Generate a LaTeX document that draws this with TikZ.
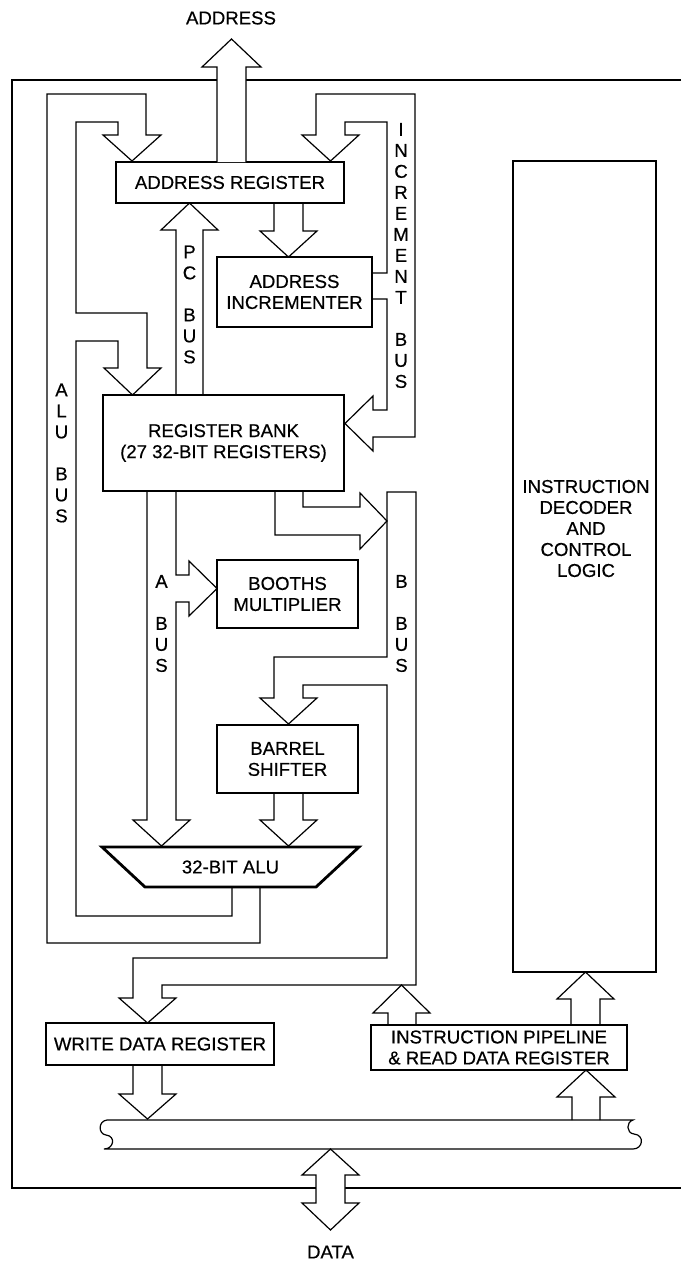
\documentclass[tikz,border=0pt]{standalone}
\usepackage{fontspec}
\setmainfont{Liberation Sans}[FakeBold=0.5]
\newcommand{\lbl}{\fontsize{18.6}{21}\selectfont}
\begin{document}
\begin{tikzpicture}[x=1pt,y=-1pt,
  bus/.style={line width=1.2pt, line join=miter},
  box/.style={draw, line width=2.8pt, inner sep=0pt, align=center, font=\lbl},
  txt/.style={inner sep=0pt, align=center, font=\lbl},
  vlab/.style={inner sep=0pt, align=center, font=\lbl}]
\useasboundingbox (0,0) rectangle (681,1261);
% outer frame
\draw[bus] (681,80) -- (12,80) -- (12,1188) -- (681,1188);
% boxes
\node[box, minimum width=228pt, minimum height=41pt] (areg) at (230,182.5) {ADDRESS REGISTER};
\node[box, minimum width=155pt, minimum height=70pt] (ainc) at (294.5,292) {ADDRESS\\INCREMENTER};
\node[box, minimum width=241pt, minimum height=96pt] (rbank) at (223.5,443) {REGISTER BANK\\(27 32-BIT REGISTERS)};
\node[box, minimum width=141pt, minimum height=68pt] (booth) at (287.5,594) {BOOTHS\\MULTIPLIER};
\node[box, minimum width=141pt, minimum height=68pt] (barrel) at (287.5,759) {BARREL\\SHIFTER};
\node[box, minimum width=228pt, minimum height=42pt] (wdr) at (160,1044) {WRITE DATA REGISTER};
\node[box, minimum width=256pt, minimum height=45pt] (pipe) at (499,1047.5) {INSTRUCTION PIPELINE\\\& READ DATA REGISTER};
\node[box, minimum width=143pt, minimum height=811pt] (dec) at (584.5,566.5) {};
\node[txt] (dectext) at (586,528.5) {INSTRUCTION\\DECODER\\AND\\CONTROL\\LOGIC};
% ALU
\draw[line width=2.8pt, line join=miter] (102,847) -- (359,847) -- (316,887) -- (145,887) -- cycle;
\node[txt] (alu) at (230.5,867) {32-BIT ALU};
% ADDRESS arrow (out of chip)
\path[bus, draw, fill=white] (217,162) -- (217,67) -- (202,67) -- (231.5,39) -- (261,67) -- (246,67) -- (246,162);
\node[txt] (addr) at (231,18) {ADDRESS};
% ALU bus
\draw[bus] (260,887) -- (260,943) -- (47,943) -- (47,94) -- (146,94) -- (146,135) -- (161,135) -- (132,161)
  -- (103,135) -- (118,135) -- (118,122) -- (76,122) -- (76,313) -- (147,313) -- (147,368) -- (161,368)
  -- (132.5,395) -- (104,368) -- (118,368) -- (118,341) -- (76,341) -- (76,916) -- (232,916) -- (232,887);
% increment bus
\draw[bus] (372,273) -- (387,273) -- (387,122) -- (345,122) -- (345,135) -- (359,135) -- (330.5,161)
  -- (302,135) -- (316,135) -- (316,94) -- (415,94) -- (415,437) -- (373,437) -- (373,451) -- (345,423.5)
  -- (373,396) -- (373,410) -- (387,410) -- (387,299) -- (372,299);
% address register -> incrementer
\draw[bus] (274,203) -- (274,231) -- (260,231) -- (288.5,257) -- (317,231) -- (303,231) -- (303,203);
% PC bus
\draw[bus] (176,395) -- (176,230) -- (161,230) -- (189.5,203) -- (218,230) -- (203,230) -- (203,395);
% register bank -> B bus
\draw[bus] (275,491) -- (275,535) -- (360,535) -- (360,549) -- (387,521) -- (360,493) -- (360,507) -- (303,507) -- (303,491);
% B bus
\draw[bus] (387,657) -- (387,492) -- (416,492) -- (416,985) -- (162,985) -- (162,998) -- (176,998)
  -- (147.5,1023) -- (119,998) -- (133,998) -- (133,958) -- (387,958) -- (387,685) -- (303,685)
  -- (303,698) -- (317,698) -- (288.5,724) -- (260,698) -- (274,698) -- (274,657) -- cycle;
% A bus
\draw[bus] (147,491) -- (147,820) -- (133,820) -- (161.5,846) -- (190,820) -- (176,820) -- (176,602)
  -- (189,602) -- (189,616) -- (217,588.5) -- (189,561) -- (189,575) -- (176,575) -- (176,491);
% barrel shifter -> ALU
\draw[bus] (274,793) -- (274,820) -- (260,820) -- (288.5,846) -- (317,820) -- (303,820) -- (303,793);
% write data register -> data bus
\draw[bus] (133,1065) -- (133,1094) -- (119,1094) -- (147.5,1119) -- (176,1094) -- (162,1094) -- (162,1065);
% data bus
\draw[bus] (107,1120) -- (633,1120) .. controls (626,1122) and (626,1133) .. (634,1134)
  .. controls (645,1135) and (643,1149) .. (633,1149) -- (104,1149)
  .. controls (114,1149) and (116,1136) .. (106,1135) .. controls (98,1134) and (98,1121) .. (107,1120);
% data bus -> pipeline
\draw[bus] (572,1120) -- (572,1097) -- (557,1097) -- (586,1070) -- (615,1097) -- (600,1097) -- (600,1120);
% pipeline -> decoder
\draw[bus] (571,1025) -- (571,999) -- (557,999) -- (585.5,972) -- (614,999) -- (600,999) -- (600,1025);
% pipeline -> B bus
\draw[bus] (388,1025) -- (388,1013) -- (373,1013) -- (401.5,985) -- (430,1013) -- (416,1013) -- (416,1025);
% DATA arrow
\path[bus, draw, fill=white] (330.5,1149) -- (359,1175) -- (345,1175) -- (345,1203) -- (359,1203) -- (330.5,1230)
  -- (302,1203) -- (316,1203) -- (316,1175) -- (302,1175) -- cycle;
\node[txt] (data) at (330.5,1252) {DATA};
% bus labels
\node[vlab] (alubus) at (61.5,453) {A\\L\\U\\[21pt]B\\U\\S};
\node[vlab] (pcbus) at (189.5,304.5) {P\\C\\[21pt]B\\U\\S};
\node[vlab] (incbus) at (401,255.5) {I\\N\\C\\R\\E\\M\\E\\N\\T\\[21pt]B\\U\\S};
\node[vlab] (abus) at (161.5,623.5) {A\\[21pt]B\\U\\S};
\node[vlab] (bbus) at (401.5,623.5) {B\\[21pt]B\\U\\S};
\end{tikzpicture}
\end{document}
